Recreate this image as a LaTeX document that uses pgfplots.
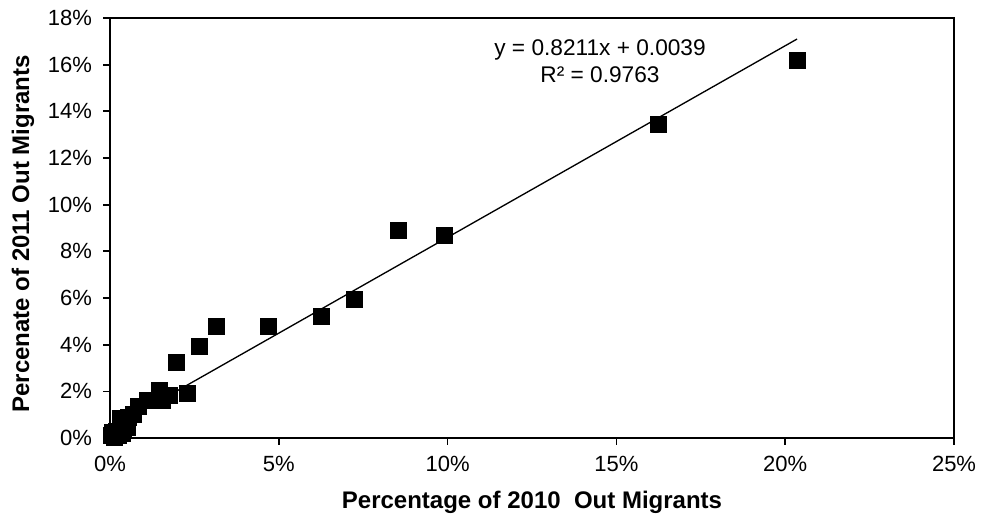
\documentclass[border=0pt]{standalone}
\usepackage{pgfplots}
\pgfplotsset{compat=1.18}
\usepackage{fontspec}
\setmainfont{Liberation Sans}
\begin{document}
\begin{tikzpicture}
\begin{axis}[
  scale only axis,
  width=633pt, height=315pt,
  xmin=0, xmax=25, ymin=0, ymax=18,
  xtick={0,5,10,15,20,25},
  ytick={0,2,4,6,8,10,12,14,16,18},
  xticklabel={\pgfmathprintnumber{\tick}\%},
  yticklabel={\pgfmathprintnumber{\tick}\%},
  /pgf/number format/assume math mode=true,
  tick align=outside,
  xtick pos=bottom, ytick pos=left,
  major tick length=5pt,
  tick style={black, line width=1.3pt},
  axis line style={line width=1.3pt},
  ticklabel style={font=\fontsize{16.5}{18}\selectfont},
  xticklabel style={yshift=-5pt},
  yticklabel style={xshift=-5pt},
  xlabel={Percentage of 2010\ \ Out Migrants},
  ylabel={Percenate of 2011 Out Migrants},
  label style={font=\bfseries\fontsize{18}{20}\selectfont},
  xlabel style={at={(rel axis cs:0.5,-0.152)}, anchor=center},
  ylabel style={at={(rel axis cs:-0.103,0.486)}, anchor=center},
  clip=false,
]
\addplot[only marks, mark=square*, mark size=6pt, black] coordinates {
(0.05,0.10) (0.08,0.25) (0.12,0.05) (0.15,0.18) (0.20,0.30) (0.25,0.12)
(0.30,0.45) (0.35,0.20) (0.40,0.35) (0.45,0.60) (0.50,0.45) (0.30,0.85)
(0.55,0.90) (0.70,1.00) (0.85,1.35) (1.10,1.60) (1.45,2.05) (1.55,1.60)
(1.75,1.85) (2.30,1.90) (1.95,3.25) (2.65,3.95) (3.15,4.80) (4.70,4.80)
(6.25,5.20) (7.25,5.95) (8.55,8.90) (9.90,8.70) (16.25,13.45) (20.35,16.20)
};
\addplot[black, line width=1pt] coordinates {(0.05,0.431) (20.35,17.099)};
\node[anchor=center, align=center, font=\fontsize{17}{20}\selectfont, inner sep=0pt]
  at (rel axis cs:0.5806,0.8964) {y = 0.8211x + 0.0039\\R² = 0.9763};
\coordinate (bl) at (rel axis cs:-0.1303,-0.1929);
\coordinate (tr) at (rel axis cs:1.0355,1.0429);
\end{axis}
\pgfresetboundingbox
\path[use as bounding box] (bl) rectangle (tr);
\end{tikzpicture}
\end{document}
